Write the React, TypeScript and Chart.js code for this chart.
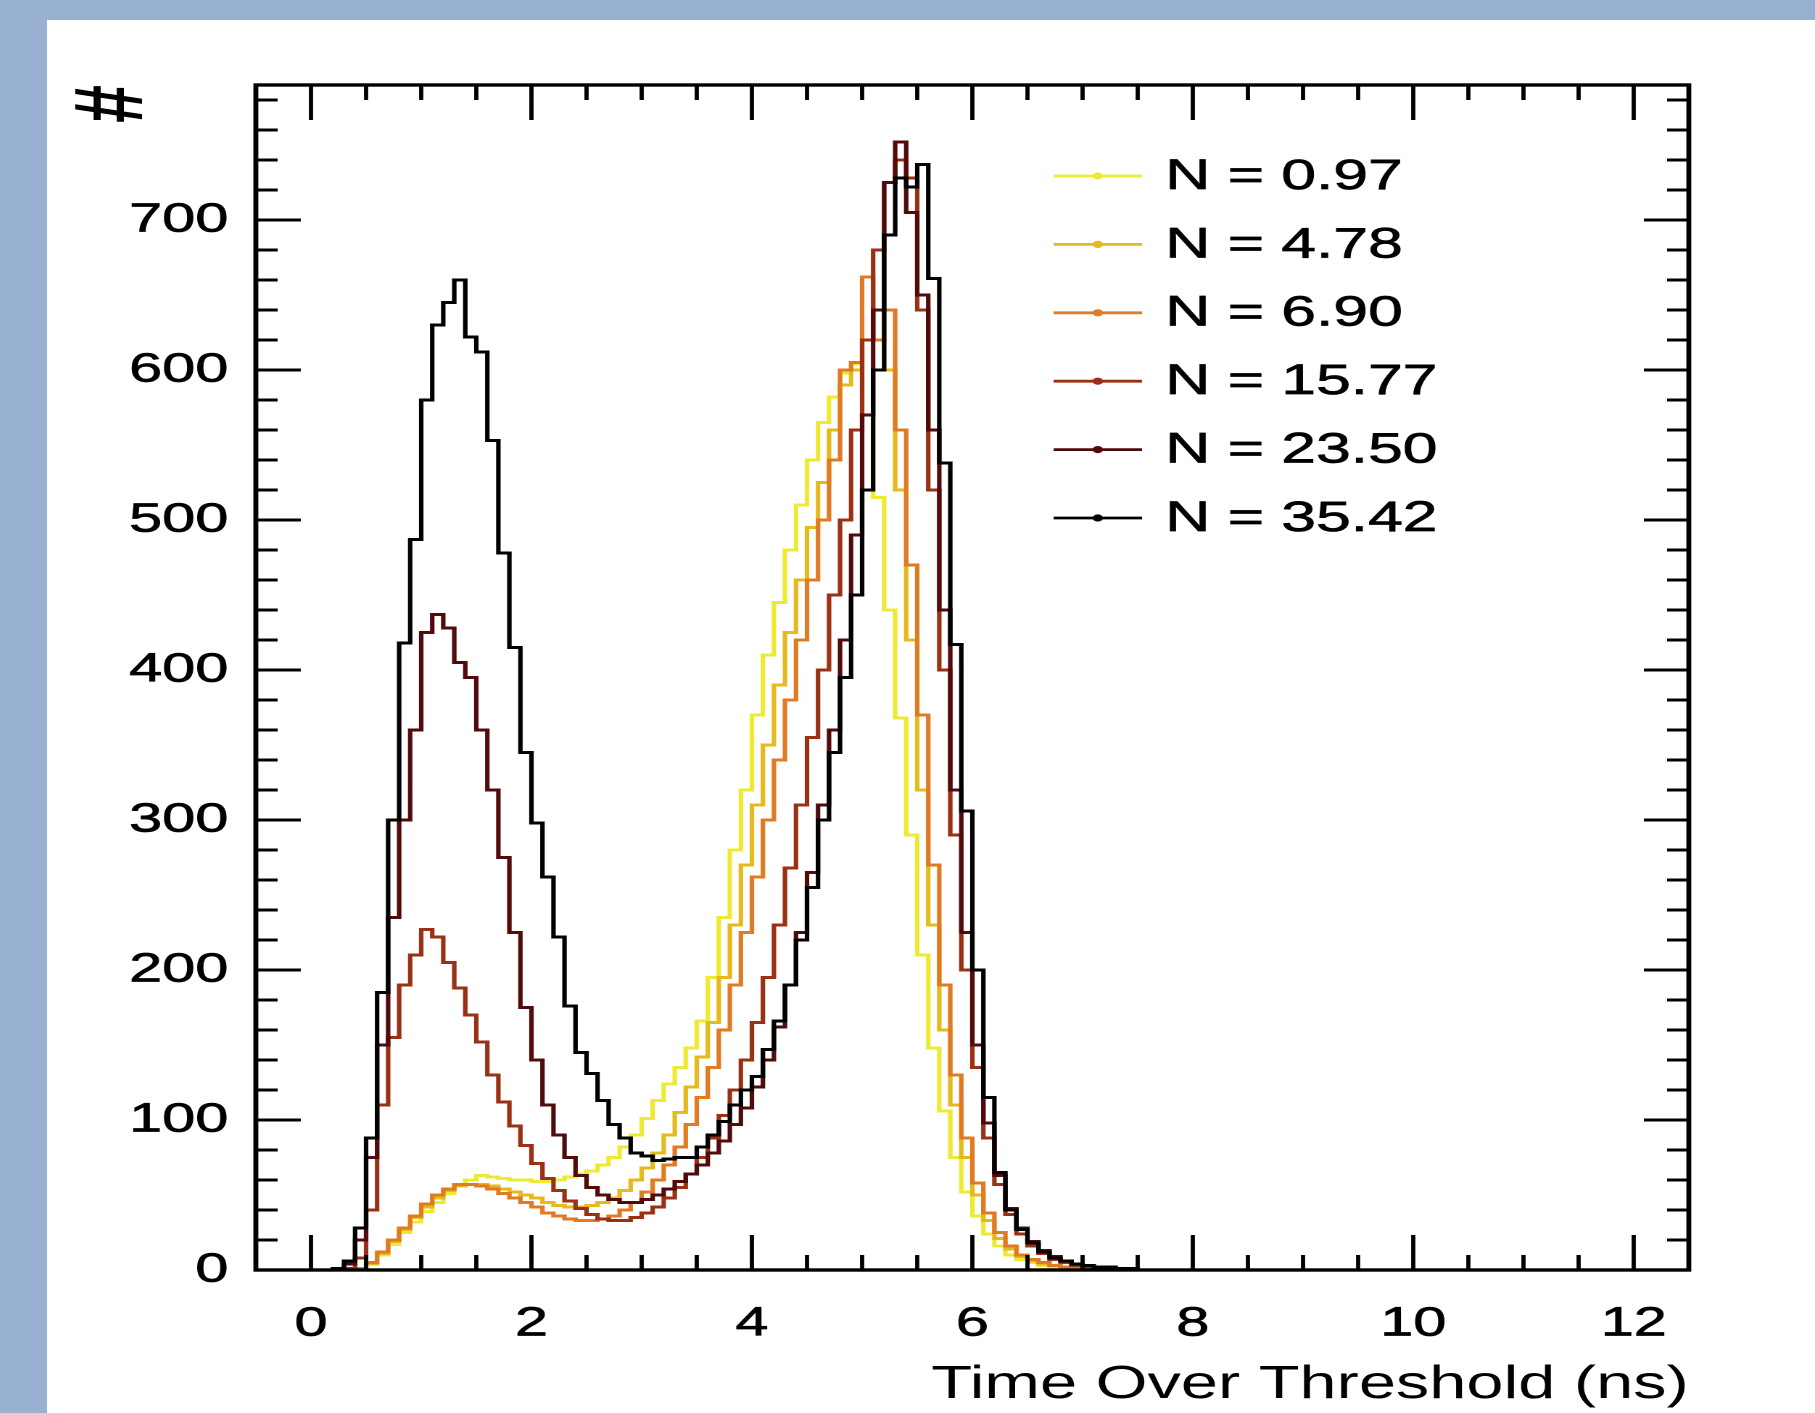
import React, { useEffect, useRef } from "react";
import { Chart, registerables } from "chart.js";

Chart.register(...registerables);
Chart.defaults.font.family = '"Liberation Sans", Arial, Helvetica, sans-serif';

// ---------------- data ----------------
// Histogram: bins of 0.1 ns starting at 0.0 ns (counts per bin), all other bins are empty.
const BIN_START = 0.0;
const BIN_WIDTH = 0.1;
const X_MIN = -0.5;
const X_MAX = 12.5;
const Y_MIN = 0;
const Y_MAX = 790;
const X_TICKS = [0, 2, 4, 6, 8, 10, 12];
const Y_TICKS = [0, 100, 200, 300, 400, 500, 600, 700];
const X_MINOR_STEP = 0.5;
const Y_MINOR_STEP = 20;
const X_TITLE = "Time Over Threshold (ns)";
const Y_TITLE = "#";

const SERIES_LABELS = ["N = 0.97", "N = 4.78", "N = 6.90", "N = 15.77", "N = 23.50", "N = 35.42"];
const SERIES_COLORS = ["#eeea34", "#e6b91c", "#df7b22", "#9a3014", "#520b0b", "#000000"];

const countsN097 = [
  0, 0, 0, 0, 1, 4, 10, 17, 25, 32,
  39, 45, 51, 56, 60, 63, 62, 61, 60, 60,
  59, 59, 60, 62, 64, 66, 70, 75, 82, 90,
  101, 113, 124, 135, 148, 166, 195, 235, 280, 320,
  370, 410, 445, 480, 510, 540, 565, 582, 598, 604,
  570, 515, 440, 368, 290, 210, 148, 106, 75, 52,
  36, 24, 16, 10, 7, 5, 3, 2, 1, 1,
  0, 0, 0, 0, 0, 0, 0, 0, 0, 0,
];
const countsN478 = [
  0, 0, 0, 0, 1, 4, 11, 19, 27, 35,
  42, 48, 53, 56, 57, 57, 56, 54, 52, 50,
  48, 45, 43, 42, 42, 43, 45, 48, 53, 60,
  68, 78, 90, 105, 122, 142, 165, 195, 230, 270,
  310, 350, 390, 425, 460, 495, 525, 560, 590, 600,
  620, 640, 600, 520, 420, 320, 230, 160, 110, 75,
  50, 33, 21, 14, 9, 6, 4, 3, 2, 1,
  1, 0, 0, 0, 0, 0, 0, 0, 0, 0,
];
const countsN690 = [
  0, 0, 0, 0, 1, 5, 12, 20, 28, 36,
  44, 50, 54, 57, 57, 56, 54, 51, 48, 45,
  42, 38, 36, 34, 33, 33, 34, 36, 40, 45,
  52, 60, 70, 82, 97, 115, 135, 160, 190, 225,
  262, 300, 340, 380, 420, 460, 500, 540, 600, 605,
  662, 620, 640, 560, 470, 370, 270, 190, 130, 88,
  58, 38, 25, 16, 10, 7, 5, 3, 2, 1,
  1, 0, 0, 0, 0, 0, 0, 0, 0, 0,
];
const countsN1577 = [
  0, 0, 0, 1, 8, 40, 110, 155, 190, 210,
  227, 222, 205, 188, 170, 152, 130, 112, 96, 83,
  71, 61, 53, 46, 41, 37, 34, 33, 33, 35,
  38, 42, 48, 55, 64, 75, 88, 103, 120, 140,
  165, 195, 230, 268, 310, 355, 400, 450, 500, 560,
  620, 680, 725, 740, 728, 640, 520, 400, 290, 200,
  135, 88, 57, 37, 24, 16, 11, 7, 5, 3,
  2, 1, 1, 0, 0, 0, 0, 0, 0, 0,
];
const countsN2350 = [
  0, 0, 1, 4, 20, 75, 150, 235, 300, 360,
  425, 437, 428, 405, 395, 360, 320, 275, 225, 175,
  140, 110, 90, 75, 63, 55, 50, 47, 45, 45,
  47, 50, 54, 59, 64, 70, 78, 86, 97, 108,
  122, 140, 162, 190, 225, 265, 310, 360, 420, 490,
  570, 640, 725, 752, 705, 650, 560, 440, 320, 225,
  150, 98, 63, 41, 28, 19, 13, 9, 6, 4,
  3, 2, 1, 1, 0, 0, 0, 0, 0, 0,
];
const countsN3542 = [
  0, 0, 1, 6, 28, 88, 185, 300, 418, 487,
  580, 630, 645, 660, 622, 612, 553, 478, 415, 345,
  298, 262, 222, 176, 145, 131, 113, 97, 88, 78,
  76, 73, 74, 75, 75, 82, 90, 99, 110, 120,
  129, 147, 166, 190, 220, 255, 300, 345, 395, 450,
  520, 600, 690, 728, 722, 737, 661, 538, 417, 306,
  200, 115, 65, 40, 27, 18, 12, 8, 6, 4,
  3, 2, 2, 1, 1, 0, 0, 0, 0, 0,
];
const SERIES = [countsN097, countsN478, countsN690, countsN1577, countsN2350, countsN3542];

// ---------------- layout (internal canvas units; canvas is stretched horizontally) ----------------
const PAGE_W = 1815;
const PAGE_H = 1413;
const PANEL_LEFT = 47;
const PANEL_TOP = 20;
const PANEL_W = PAGE_W - PANEL_LEFT;
const PANEL_H = PAGE_H - PANEL_TOP;
const H_STRETCH = 1.45;
const CW = Math.round(PANEL_W / H_STRETCH);
const CH = PANEL_H;
const FONT = '"Liberation Sans", Arial, Helvetica, sans-serif';

function toPoints(counts: number[]) {
  const pts: { x: number; y: number }[] = [{ x: X_MIN, y: 0 }];
  counts.forEach((c, i) => pts.push({ x: +(BIN_START + i * BIN_WIDTH).toFixed(3), y: c }));
  pts.push({ x: +(BIN_START + counts.length * BIN_WIDTH).toFixed(3), y: 0 });
  pts.push({ x: X_MAX, y: 0 });
  return pts;
}

const framePlugin = {
  id: "rootFrame",
  afterDatasetsDraw(chart: any) {
    const { ctx, chartArea: a, scales } = chart;
    const xs = scales.x;
    const ys = scales.y;
    ctx.save();
    ctx.strokeStyle = "#000";
    ctx.lineCap = "butt";
    ctx.lineWidth = 2.9;
    ctx.beginPath();
    const nx = Math.round((X_MAX - X_MIN) / X_MINOR_STEP);
    for (let k = 1; k < nx; k++) {
      const v = X_MIN + k * X_MINOR_STEP;
      const major = X_TICKS.some((t) => Math.abs(t - v) < 1e-6);
      const len = major ? 35 : 15;
      const px = xs.getPixelForValue(v);
      ctx.moveTo(px, a.bottom);
      ctx.lineTo(px, a.bottom - len);
      ctx.moveTo(px, a.top);
      ctx.lineTo(px, a.top + len);
    }
    const ny = Math.floor((Y_MAX - Y_MIN) / Y_MINOR_STEP);
    for (let k = 1; k <= ny; k++) {
      const v = Y_MIN + k * Y_MINOR_STEP;
      if (v >= Y_MAX) break;
      const major = Y_TICKS.some((t) => Math.abs(t - v) < 1e-6);
      const len = major ? 31 : 15;
      const py = ys.getPixelForValue(v);
      ctx.moveTo(a.left, py);
      ctx.lineTo(a.left + len, py);
      ctx.moveTo(a.right, py);
      ctx.lineTo(a.right - len, py);
    }
    ctx.stroke();
    ctx.lineWidth = 3.4;
    ctx.strokeRect(a.left, a.top, a.right - a.left, a.bottom - a.top);
    ctx.restore();
  },
};

const legendPlugin = {
  id: "insideLegend",
  afterDraw(chart: any) {
    const { ctx, chartArea: a } = chart;
    const x1 = a.left + 550;
    const x2 = a.left + 611;
    const xt = a.left + 627;
    const y0 = a.top + 91;
    const step = 68.4;
    ctx.save();
    chart.data.datasets.forEach((ds: any, i: number) => {
      const y = y0 + i * step;
      ctx.strokeStyle = ds.borderColor;
      ctx.fillStyle = ds.borderColor;
      ctx.lineWidth = 2.8;
      ctx.beginPath();
      ctx.moveTo(x1, y);
      ctx.lineTo(x2, y);
      ctx.stroke();
      ctx.beginPath();
      ctx.arc((x1 + x2) / 2, y, 3.6, 0, Math.PI * 2);
      ctx.fill();
      ctx.fillStyle = "#000";
      ctx.strokeStyle = "#000";
      ctx.lineWidth = 0.7;
      ctx.font = "43px " + FONT;
      ctx.textAlign = "left";
      ctx.textBaseline = "middle";
      ctx.fillText(ds.label, xt, y + 1);
      ctx.strokeText(ds.label, xt, y + 1);
    });
    ctx.restore();
  },
};

export default function App() {
  const ref = useRef<HTMLCanvasElement>(null);
  useEffect(() => {
    const canvas = ref.current;
    if (!canvas) return;
    const chart = new Chart(canvas, {
      type: "line",
      data: {
        datasets: SERIES.map((counts, i) => ({
          label: SERIES_LABELS[i],
          data: toPoints(counts),
          borderColor: SERIES_COLORS[i],
          backgroundColor: SERIES_COLORS[i],
          borderWidth: 3.1,
          pointRadius: 0,
          pointHoverRadius: 0,
          stepped: "before" as const,
          fill: false,
          order: SERIES.length - 1 - i,
        })),
      },
      options: {
        animation: false,
        responsive: false,
        devicePixelRatio: 2,
        events: [],
        layout: { padding: { left: 0, right: CW - 1132, top: 65, bottom: 0 } },
        plugins: {
          legend: { display: false },
          tooltip: { enabled: false },
        },
        scales: {
          x: {
            type: "linear",
            min: X_MIN,
            max: X_MAX,
            afterBuildTicks: (s: any) => {
              s.ticks = X_TICKS.map((v) => ({ value: v }));
            },
            afterFit: (s: any) => {
              s.height = 143;
            },
            grid: { display: false, drawTicks: false },
            border: { display: false },
            ticks: {
              color: "#000",
              font: { size: 41 },
              padding: 29.5,
              maxRotation: 0,
              autoSkip: false,
              textStrokeColor: "#000",
              textStrokeWidth: 0.7,
              callback: (v: any) => String(v),
            },
            title: {
              display: true,
              text: X_TITLE,
              align: "end",
              color: "#000",
              font: { size: 46 },
              padding: { top: 0, bottom: 0 },
            },
          },
          y: {
            type: "linear",
            min: Y_MIN,
            max: Y_MAX,
            afterBuildTicks: (s: any) => {
              s.ticks = Y_TICKS.map((v) => ({ value: v }));
            },
            afterFit: (s: any) => {
              s.width = 144;
            },
            grid: { display: false, drawTicks: false },
            border: { display: false },
            ticks: {
              color: "#000",
              font: { size: 41 },
              padding: 19,
              textStrokeColor: "#000",
              textStrokeWidth: 0.7,
              callback: (v: any) => String(v),
            },
            title: {
              display: true,
              text: Y_TITLE,
              align: "end",
              color: "#000",
              font: { size: 68, weight: "bold" },
              padding: { top: 6, bottom: 0 },
            },
          },
        },
      },
      plugins: [framePlugin, legendPlugin],
    } as any);
    return () => chart.destroy();
  }, []);

  return (
    <div
      style={{
        position: "absolute",
        left: 0,
        top: 0,
        width: PAGE_W,
        height: PAGE_H,
        background: "#99b1d1",
        overflow: "hidden",
      }}
    >
      <div
        style={{
          position: "absolute",
          left: PANEL_LEFT,
          top: PANEL_TOP,
          width: PANEL_W,
          height: PANEL_H,
          background: "#ffffff",
        }}
      >
        <canvas
          ref={ref}
          width={CW}
          height={CH}
          style={{ width: PANEL_W + "px", height: PANEL_H + "px", display: "block" }}
        />
      </div>
    </div>
  );
}
